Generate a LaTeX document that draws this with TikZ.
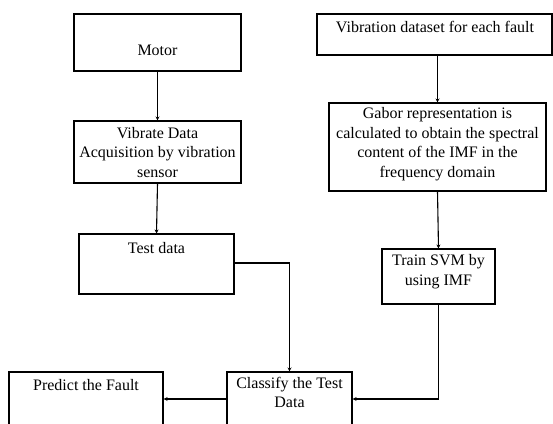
\documentclass[tikz,border=0pt]{standalone}
\usepackage{fontspec}
\setmainfont{Liberation Serif}
\usetikzlibrary{arrows.meta}
\begin{document}
\begin{tikzpicture}[x=1pt,y=-1pt,
  box/.style={draw, line width=1.1pt, rectangle, inner sep=0pt},
  txt/.style={inner sep=0pt, align=center, font=\fontsize{16}{19.5}\selectfont},
  conn/.style={draw, line width=1.1pt, -{Stealth[length=4pt,width=4pt]}}]
\useasboundingbox (0,0) rectangle (553,423);
\clip (0,0) rectangle (553,423);
% boxes
\node[box, minimum width=167pt, minimum height=57pt] (motor) at (157.5,42.5) {};
\node[txt] (motort) at (157.5,50) {Motor};
\node[box, minimum width=167pt, minimum height=62pt] (vib) at (157.5,152) {};
\node[txt] (vibt) at (157.5,152.5) {Vibrate Data\\Acquisition by vibration\\sensor};
\node[box, minimum width=155pt, minimum height=60pt] (test) at (156.5,264) {};
\node[txt] (testt) at (156.5,248) {Test data};
\node[box, minimum width=154pt, minimum height=100pt] (pred) at (86,422) {};
\node[txt] (predt) at (86,385) {Predict the Fault};
\node[box, minimum width=125pt, minimum height=100pt] (cls) at (289.5,422) {};
\node[txt] (clst) at (289.5,392.5) {Classify the Test\\Data};
\node[box, minimum width=235pt, minimum height=41pt] (vds) at (434.5,34.5) {};
\node[txt] (vdst) at (435,27) {Vibration dataset for each fault};
\node[box, minimum width=217pt, minimum height=88pt] (gab) at (437.5,147) {};
\node[txt] (gabt) at (437.5,144) {Gabor representation is\\calculated to obtain the spectral\\content of the IMF in the\\frequency domain};
\node[box, minimum width=113pt, minimum height=55pt] (svm) at (438.5,276.5) {};
\node[txt] (svmt) at (438.5,271.5) {Train SVM by\\using IMF};
% connectors
\draw[conn] (motor.south) -- (vib.north);
\draw[conn] (vib.south) -- (test.north);
\draw[conn] (vds.south -| gab.north) -- (gab.north);
\draw[conn] (gab.south) -- (svm.north);
\draw[conn] (test.east |- 0,263) -| (cls.north);
\draw[conn] (svm.south) |- (cls.east |- 0,399);
\draw[conn] (cls.west |- 0,399) -- (pred.east |- 0,399);
\end{tikzpicture}
\end{document}
